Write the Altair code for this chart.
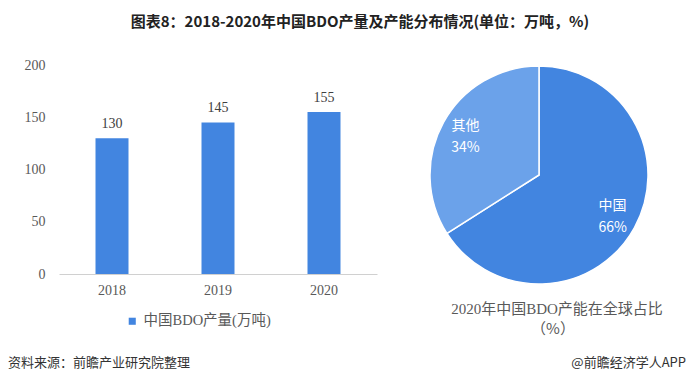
import altair as alt
import pandas as pd

years = ["2018", "2019", "2020"]
output = [130, 145, 155]
pie_cats = ["中国", "其他"]
pie_vals = [66, 34]
pie_labels = ["中国\n66%", "其他\n34%"]

W, H = 678, 369
OX, OY = 8, 8  # page margin

bar_df = pd.DataFrame({"year": years, "value": output, "series": ["中国BDO产量(万吨)"] * 3})
pie_df = pd.DataFrame({"cat": pie_cats, "val": pie_vals, "label": pie_labels, "ord": [0, 1]})

SERIF = "Liberation Serif, Noto Sans CJK SC"
SANS = "Noto Sans CJK SC"
GRAY = "#595959"

xscale = alt.Scale(domain=years, range=[59 - OX, 377 - OX], paddingInner=0.69, paddingOuter=0.345)
yscale = alt.Scale(domain=[0, 200], range=[274 - OY, 65 - OY])

bars = alt.Chart(bar_df).mark_bar(size=33).encode(
    x=alt.X("year:N", scale=xscale, sort=years,
            axis=alt.Axis(title=None, labelAngle=0, ticks=False, domainColor="#d0d0d0",
                          labelFont=SERIF, labelFontSize=14, labelColor=GRAY,
                          labelPadding=9, offset=-(H - (274 - OY)))),
    y=alt.Y("value:Q", scale=yscale,
            axis=alt.Axis(title=None, values=[0, 50, 100, 150, 200], ticks=False, domain=False,
                          grid=False, labelFont=SERIF, labelFontSize=14, labelColor=GRAY,
                          labelPadding=0, offset=-(45 - OX))),
    color=alt.Color("series:N", scale=alt.Scale(range=["#4285E0"]),
                    legend=alt.Legend(title=None, orient="none", legendX=125 - OX, legendY=314 - OY,
                                      symbolType="square", symbolSize=50, labelFont=SERIF,
                                      labelFontSize=14.5, labelColor=GRAY, labelOffset=4)),
)

bar_text = alt.Chart(bar_df).mark_text(baseline="bottom", dy=-7, font=SERIF, fontSize=14,
                                       color="#404040").encode(
    x=alt.X("year:N", scale=xscale, sort=years, axis=None),
    y=alt.Y("value:Q", scale=yscale, axis=None),
    text="value:Q",
)

pie = alt.Chart(pie_df).mark_arc(outerRadius=109, stroke="white", strokeWidth=1.5).encode(
    theta=alt.Theta("val:Q", stack=True),
    order=alt.Order("ord:Q"),
    color=alt.Color("cat:N", scale=alt.Scale(domain=pie_cats, range=["#4285E0", "#6BA2EA"]), legend=None),
    x=alt.value(539 - OX),
    y=alt.value(175 - OY),
)

pie_text = alt.Chart(pie_df).mark_text(radius=84, color="white", font=SANS, fontSize=14,
                                       lineBreak="\n", lineHeight=22, dy=-9).encode(
    theta=alt.Theta("val:Q", stack=True),
    order=alt.Order("ord:Q"),
    text="label:N",
    x=alt.value(539 - OX),
    y=alt.value(175 - OY),
)

texts_df = pd.DataFrame({
    "t": ["图表8：2018-2020年中国BDO产量及产能分布情况(单位：万吨，%)"],
})
title = alt.Chart(texts_df).mark_text(font=SANS, fontSize=15, fontWeight="bold", color="#222222").encode(
    text="t:N", x=alt.value(360 - OX), y=alt.value(22 - OY))

pie_title_df = pd.DataFrame({"t": ["2020年中国BDO产能在全球占比"]})
pie_title = alt.Chart(pie_title_df).mark_text(font=SERIF, fontSize=15, color=GRAY).encode(
    text="t:N", x=alt.value(557 - OX), y=alt.value(309 - OY))
pie_title2_df = pd.DataFrame({"t": ["（%）"]})
pie_title2 = alt.Chart(pie_title2_df).mark_text(font=SANS, fontSize=15, color=GRAY).encode(
    text="t:N", x=alt.value(553 - OX), y=alt.value(329 - OY))

src_df = pd.DataFrame({"t": ["资料来源：前瞻产业研究院整理"]})
src = alt.Chart(src_df).mark_text(font=SANS, fontSize=13, color="#333333", align="left").encode(
    text="t:N", x=alt.value(0), y=alt.value(363 - OY))
app_df = pd.DataFrame({"t": ["@前瞻经济学人APP"]})
app = alt.Chart(app_df).mark_text(font=SANS, fontSize=13, color="#333333", align="right").encode(
    text="t:N", x=alt.value(W), y=alt.value(363 - OY))

chart = alt.layer(bars, bar_text, pie, pie_text, title, pie_title, pie_title2, src, app).resolve_scale(
    color="independent", theta="independent", x="independent", y="independent"
).properties(
    width=W, height=H, autosize=alt.AutoSizeParams(type="none"), padding=0, background="white"
).configure_view(stroke=None)

chart.save("out.html", embed_options={"renderer": "svg", "actions": False})
